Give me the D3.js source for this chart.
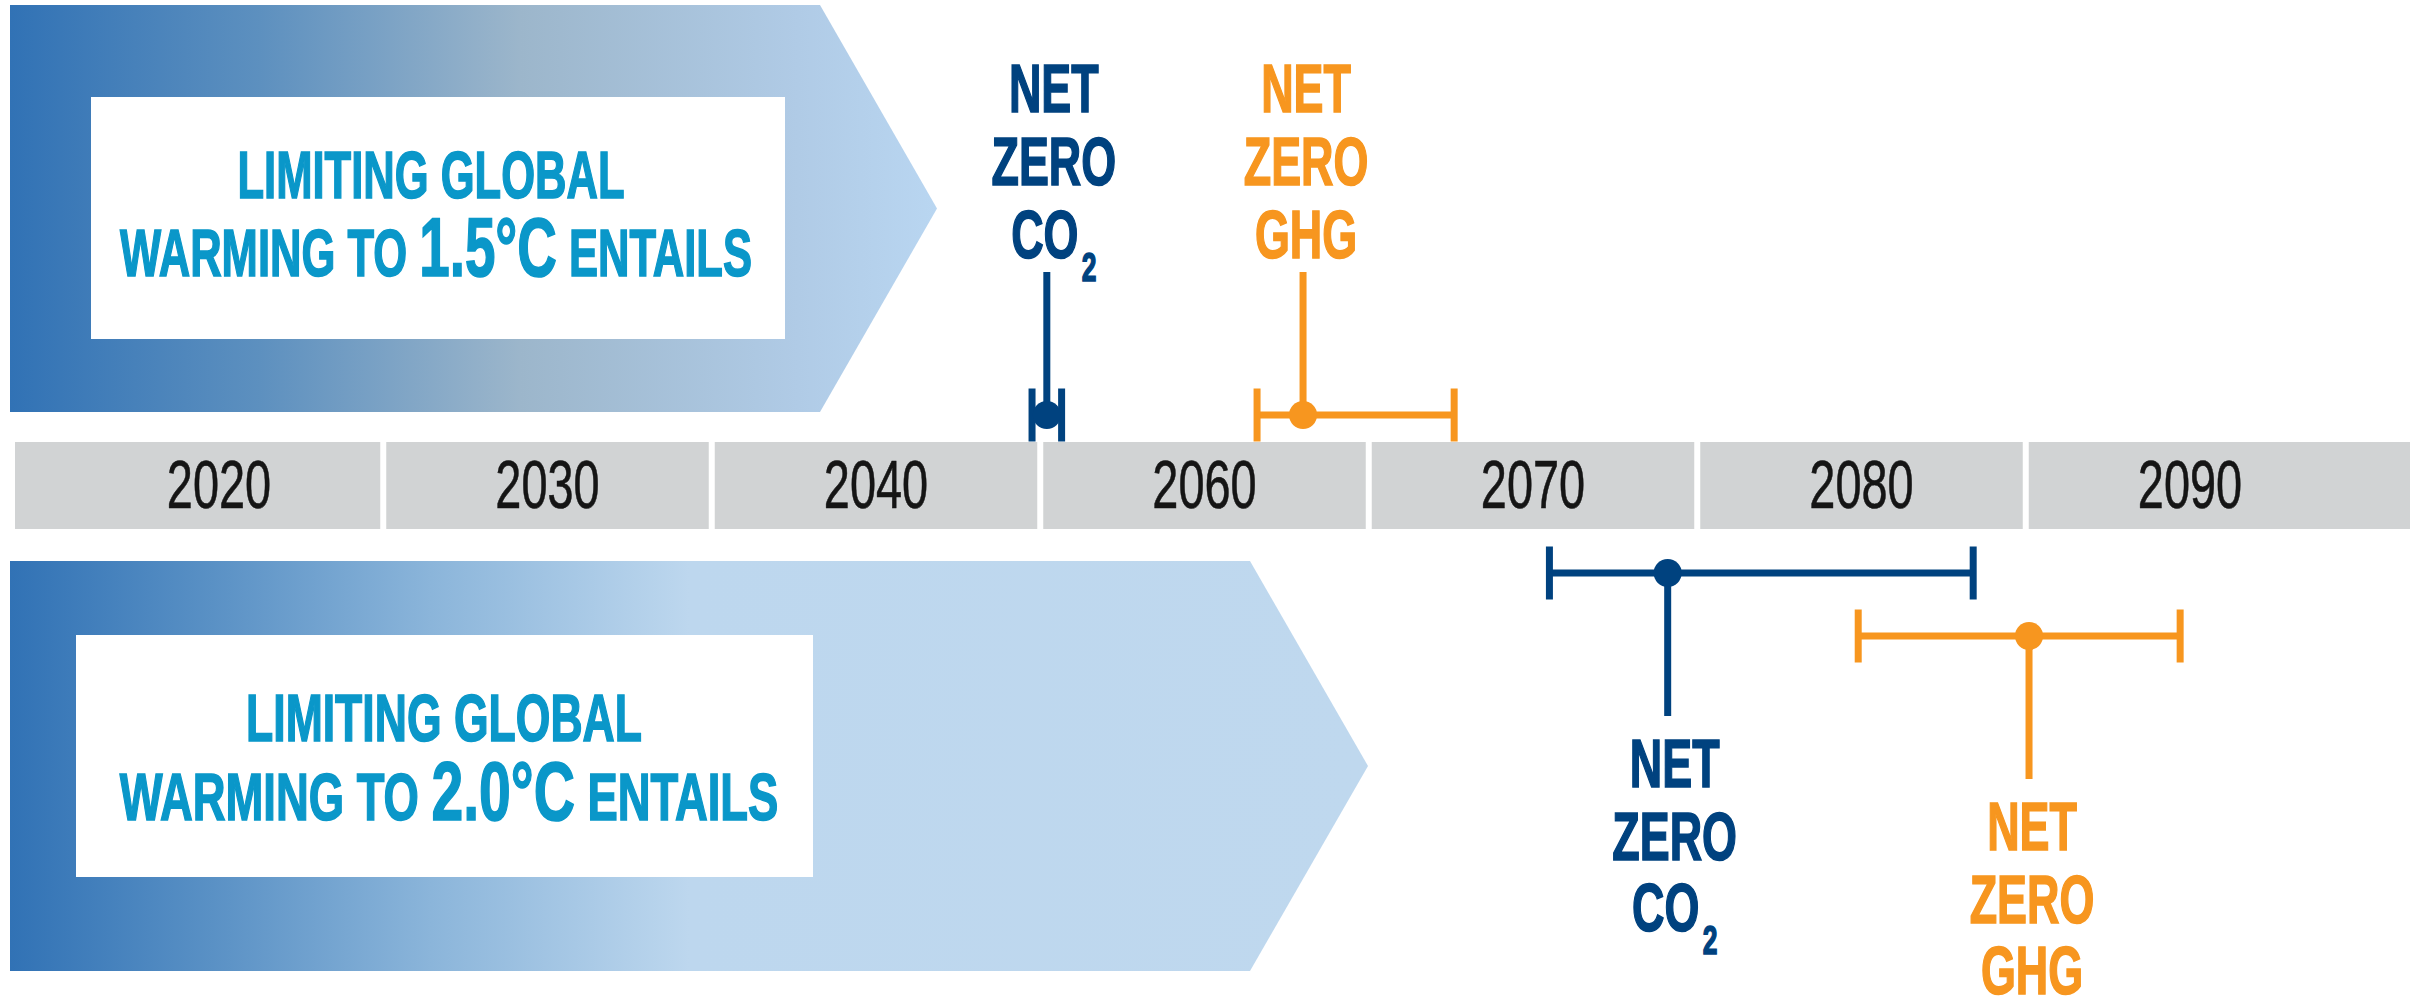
<!DOCTYPE html>
<html>
<head>
<meta charset="utf-8">
<script src="https://cdn.jsdelivr.net/npm/d3@7/dist/d3.min.js"></script>
<style>
  html, body { margin: 0; padding: 0; background: #ffffff; }
  svg { display: block; }
</style>
</head>
<body>
<script>
// ---------------- DATA ----------------
const yearLabels = [2020, 2030, 2040, 2060, 2070, 2080, 2090];
const scenarioLabels = ["1.5°C", "2.0°C"];
const titleBefore = ["LIMITING GLOBAL", "LIMITING GLOBAL"];
const titleLine2Pre = ["WARMING TO ", "WARMING TO "];
const titleLine2Post = [" ENTAILS", " ENTAILS"];
// net zero CO2 timing (median, low, high) per scenario
const co2Mid  = [2050.4, 2074.1];
const co2Low  = [2049.5, 2070.5];
const co2High = [2051.3, 2083.4];
// net zero GHG timing (median, low, high) per scenario
const ghgMid  = [2063.0, 2085.1];
const ghgLow  = [2061.6, 2079.9];
const ghgHigh = [2067.6, 2089.7];
const co2Text = ["NET", "ZERO", "CO"];
const ghgText = ["NET", "ZERO", "GHG"];

// ---------------- LAYOUT ----------------
const W = 2417, H = 1000;
const BLUE = "#00427f", ORANGE = "#f7961f", CYAN = "#0a97c9", GRAY = "#d1d3d4";
const FONT = "'Liberation Sans', Arial, Helvetica, sans-serif";

const svg = d3.select("body").append("svg")
  .attr("width", W).attr("height", H)
  .attr("viewBox", `0 0 ${W} ${H}`);

svg.append("rect").attr("width", W).attr("height", H).attr("fill", "#fff");

// polylinear year scale: labels are equally spaced
const x = d3.scaleLinear()
  .domain(yearLabels)
  .range(yearLabels.map((d, i) => 219 + i * 328.5));

// ---------------- GRADIENTS ----------------
const defs = svg.append("defs");
const gTop = defs.append("linearGradient").attr("id", "gTop")
  .attr("gradientUnits", "userSpaceOnUse")
  .attr("x1", 10).attr("x2", 937).attr("y1", 0).attr("y2", 0);
[[0, "#3172b5"], [0.27, "#5d90bf"], [0.55, "#9cb6cb"], [0.85, "#b0cbe6"], [1, "#b9d6f1"]]
  .forEach(s => gTop.append("stop").attr("offset", s[0]).attr("stop-color", s[1]));
const gBot = defs.append("linearGradient").attr("id", "gBot")
  .attr("gradientUnits", "userSpaceOnUse")
  .attr("x1", 10).attr("x2", 1368).attr("y1", 0).attr("y2", 0);
[[0, "#3172b5"], [0.15, "#5a91c5"], [0.31, "#8bb5da"], [0.5, "#bdd7ee"], [1, "#bfd8ee"]]
  .forEach(s => gBot.append("stop").attr("offset", s[0]).attr("stop-color", s[1]));

// ---------------- ARROW PANELS ----------------
const panels = [
  { top: 5, bottom: 412, rectEnd: 820, tip: 937, fill: "url(#gTop)",
    box: [91, 97, 785, 339], c1: 431, c2: 436, base1: 198, base2: 276, sx1: 0.66, sx2: 0.66 },
  { top: 561, bottom: 971, rectEnd: 1250, tip: 1368, fill: "url(#gBot)",
    box: [76, 635, 813, 877], c1: 444, c2: 449, base1: 741, base2: 820, sx1: 0.675, sx2: 0.688 }
];

const SX = 0.66;

panels.forEach((p, i) => {
  const mid = (p.top + p.bottom) / 2;
  svg.append("path")
    .attr("d", `M10,${p.top}L${p.rectEnd},${p.top}L${p.tip},${mid}L${p.rectEnd},${p.bottom}L10,${p.bottom}Z`)
    .attr("fill", p.fill);
  svg.append("rect")
    .attr("x", p.box[0]).attr("y", p.box[1])
    .attr("width", p.box[2] - p.box[0]).attr("height", p.box[3] - p.box[1])
    .attr("fill", "#fff");

  const g1 = svg.append("g").attr("transform", `translate(${p.c1},${p.base1}) scale(${p.sx1},1)`);
  g1.append("text").attr("text-anchor", "middle")
    .attr("font-family", FONT).attr("font-weight", "bold").attr("font-size", 66)
    .attr("fill", CYAN).attr("stroke", CYAN).attr("stroke-width", 1.6)
    .text(titleBefore[i]);

  const g2 = svg.append("g").attr("transform", `translate(${p.c2},${p.base2}) scale(${p.sx2},1)`);
  const t2 = g2.append("text").attr("text-anchor", "middle")
    .attr("font-family", FONT).attr("font-weight", "bold").attr("font-size", 66)
    .attr("fill", CYAN).attr("stroke", CYAN).attr("stroke-width", 1.6)
    .attr("xml:space", "preserve");
  t2.append("tspan").text(titleLine2Pre[i]);
  t2.append("tspan").attr("font-size", 83).text(scenarioLabels[i]);
  t2.append("tspan").text(titleLine2Post[i]);
});

// ---------------- TIMELINE BAR ----------------
const barTop = 442, barBottom = 529, gap = 3;
yearLabels.forEach((yr, i) => {
  const left = i === 0 ? 15 : (x(yearLabels[i - 1]) + x(yr)) / 2 + gap;
  const right = i === yearLabels.length - 1 ? 2410 : (x(yr) + x(yearLabels[i + 1])) / 2 - gap;
  svg.append("rect")
    .attr("x", left).attr("y", barTop)
    .attr("width", right - left).attr("height", barBottom - barTop)
    .attr("fill", GRAY);
  svg.append("g")
    .attr("transform", `translate(${x(yr)},508) scale(0.69,1)`)
    .append("text").attr("text-anchor", "middle")
    .attr("font-family", FONT).attr("font-size", 68)
    .attr("fill", "#151515").attr("stroke", "#151515").attr("stroke-width", 0.6)
    .text(yr);
});

// ---------------- ERROR BARS ----------------
const series = [
  { mid: co2Mid, low: co2Low, high: co2High, color: BLUE, text: co2Text, sub: true, dx: 7 },
  { mid: ghgMid, low: ghgLow, high: ghgHigh, color: ORANGE, text: ghgText, sub: false, dx: 3 }
];
// per scenario row placement: [co2 line y, ghg line y], direction
const rowY = [[415, 415], [573, 636]];
const dirs = [-1, 1];
const STEM = 143, CAP = 26.5, SW = 7, R = 14;

scenarioLabels.forEach((sc, si) => {
  series.forEach((s, k) => {
    const y = rowY[si][k];
    const dir = dirs[si];
    const g = svg.append("g");
    const xm = x(s.mid[si]), xl = x(s.low[si]), xh = x(s.high[si]);
    g.append("line").attr("x1", xl).attr("x2", xh).attr("y1", y).attr("y2", y)
      .attr("stroke", s.color).attr("stroke-width", SW);
    [xl, xh].forEach(cx => g.append("line")
      .attr("x1", cx).attr("x2", cx).attr("y1", y - CAP).attr("y2", y + CAP)
      .attr("stroke", s.color).attr("stroke-width", SW));
    const stemEnd = y + dir * STEM;
    g.append("line").attr("x1", xm).attr("x2", xm).attr("y1", y).attr("y2", stemEnd)
      .attr("stroke", s.color).attr("stroke-width", SW);
    g.append("circle").attr("cx", xm).attr("cy", y).attr("r", R).attr("fill", s.color);

    // stacked label
    const bases = dir < 0
      ? [stemEnd - 160, stemEnd - 87, stemEnd - 14]
      : [stemEnd + 71, stemEnd + 144, stemEnd + 215];
    s.text.forEach((line, li) => {
      const tg = svg.append("g")
        .attr("transform", `translate(${xm + s.dx},${bases[li]}) scale(${SX},1)`);
      const t = tg.append("text").attr("text-anchor", "middle")
        .attr("font-family", FONT).attr("font-weight", "bold").attr("font-size", 68)
        .attr("fill", s.color).attr("stroke", s.color).attr("stroke-width", 1.6);
      t.append("tspan").text(line);
      if (s.sub && li === 2) {
        t.append("tspan").attr("dx", 5).attr("dy", 23).attr("font-size", 40).text("2");
      }
    });
  });
});
</script>
</body>
</html>
